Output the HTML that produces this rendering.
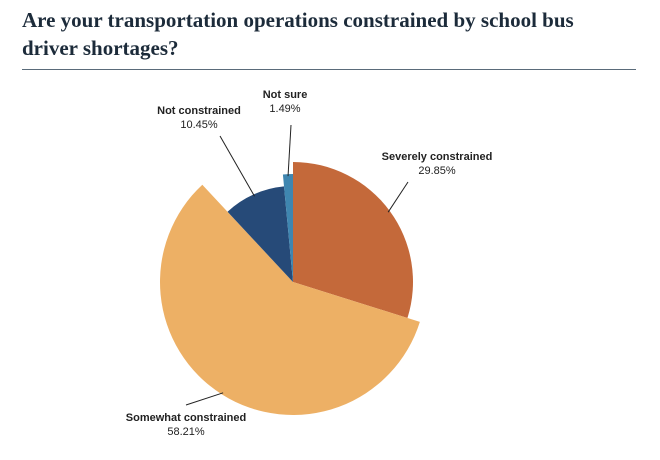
<!DOCTYPE html>
<html><head><meta charset="utf-8"><style>
body{margin:0;width:660px;height:460px;background:#fff;overflow:hidden;font-family:"Liberation Sans",sans-serif}
h1{position:absolute;left:22px;top:6px;margin:0;font-family:"Liberation Serif",serif;font-weight:bold;font-size:21px;line-height:28px;color:#1c2b3a;width:600px}
#rule{position:absolute;left:22px;top:69px;width:614px;height:1px;background:#5a6b7a}
</style></head><body>
<h1>Are your transportation operations constrained by school bus driver shortages?</h1>
<div id="rule"></div>
<svg id="c" width="660" height="460" style="position:absolute;left:0;top:0"></svg>
<script>
const categories=["Severely constrained","Somewhat constrained","Not constrained","Not sure"];
const values=[29.85,58.21,10.45,1.49];
const colors=["#c4693a","#edb065","#264a78","#3f86b0"];
const radii=[120,133,96,108];
const labelPos=[[437,160],[186,421],[199,114],[285,98]];
const leaderEnd=[[408,182],[186,405],[220,136],[291,125]];
const cx=293,cy=282;
const svg=document.getElementById('c');
const NS="http://www.w3.org/2000/svg";
const total=values.reduce((a,b)=>a+b,0);
function pt(a,r){return [cx+r*Math.sin(a),cy-r*Math.cos(a)];}
let start=0;
values.forEach((v,i)=>{
  const ang=v/total*2*Math.PI, end=start+ang, r=radii[i];
  const p1=pt(start,r),p2=pt(end,r);
  const path=document.createElementNS(NS,'path');
  path.setAttribute('d',`M${cx},${cy}L${p1[0]},${p1[1]}A${r},${r} 0 ${ang>Math.PI?1:0} 1 ${p2[0]},${p2[1]}Z`);
  path.setAttribute('fill',colors[i]);
  
  
  svg.appendChild(path);
  const mid=start+ang/2, e=pt(mid,r-2), L=labelPos[i], E=leaderEnd[i];
  const ln=document.createElementNS(NS,'line');
  ln.setAttribute('x1',e[0]);ln.setAttribute('y1',e[1]);
  ln.setAttribute('x2',E[0]);ln.setAttribute('y2',E[1]);
  ln.setAttribute('stroke','#222');ln.setAttribute('stroke-width','1');
  
  
  svg.appendChild(ln);
  [categories[i],v.toFixed(2)+'%'].forEach((t,k)=>{
    const tx=document.createElementNS(NS,'text');
    tx.setAttribute('x',L[0]);tx.setAttribute('y',L[1]+k*14);
    tx.setAttribute('text-anchor','middle');tx.setAttribute('font-size','11');
    tx.setAttribute('font-weight',k==0?'bold':'normal');tx.setAttribute('fill','#222');
    tx.setAttribute('font-family','Liberation Sans, sans-serif');
    tx.textContent=t;
    
    
    svg.appendChild(tx);
  });
  start=end;
});
</script>
</body></html>
